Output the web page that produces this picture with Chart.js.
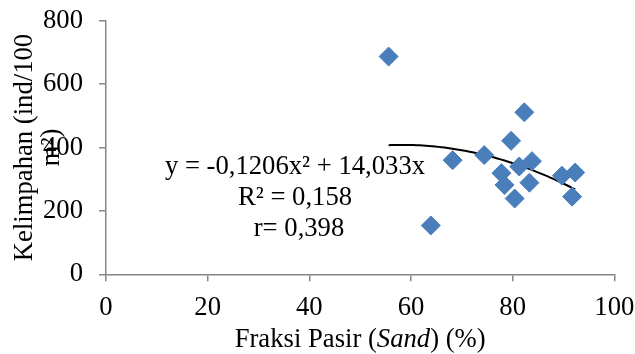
<!DOCTYPE html>
<html><head><meta charset="utf-8">
<script src="https://cdn.jsdelivr.net/npm/chart.js@4/dist/chart.umd.min.js"></script>
<style>html,body{margin:0;padding:0;background:#fff}#wrap{width:635px;height:354px;position:relative}</style>
</head><body><div id="wrap"><canvas id="c" width="635" height="354"></canvas></div>
<script>
// ---- data ----
const sandPct   = [55.6, 63.9, 68.2, 74.4, 77.8, 78.4, 79.7, 80.4, 81.3, 82.3, 83.3, 83.8, 89.7, 91.7, 92.3];
const abundance = [687, 154, 360, 376, 319, 282, 421, 239, 340, 511, 289, 357, 311, 245, 321];
const xTicks = [0, 20, 40, 60, 80, 100];
const yTicks = [0, 200, 400, 600, 800];
// printed polynomial trendline: y = a x^2 + b x
const trendA = -0.1206;
const trendB = 14.033;
const annotationLines = ['y = -0,1206x\u00B2 + 14,033x', 'R\u00B2 = 0,158', 'r= 0,398'];
const yTitleLines = ['Kelimpahan (ind/100', 'm\u00B2)'];
const xTitleParts = [['Fraksi Pasir (', false], ['Sand', true], [') (%)', false]];

const FONT = '"Liberation Serif", "Times New Roman", serif';
const FS = 26.67;
const AXIS = '#868686';
const BLUE = '#4A7EBB';

const points = sandPct.map((x, i) => ({x: x, y: abundance[i]}));
const xMin = Math.min(...sandPct), xMax = Math.max(...sandPct);
const trend = [];
for (let k = 0; k <= 60; k++) {
  const x = xMin + (xMax - xMin) * k / 60;
  trend.push({x: x, y: trendA * x * x + trendB * x});
}

const textPlugin = {
  id: 'texts',
  afterDraw(chart) {
    const ctx = chart.ctx, ca = chart.chartArea;
    ctx.save();
    ctx.fillStyle = '#000';
    ctx.font = FS + 'px ' + FONT;
    // y title (rotated, two lines)
    const cy = (ca.top + ca.bottom) / 2;
    const bx = [32, 59];
    yTitleLines.forEach((t, i) => {
      ctx.save();
      ctx.translate(bx[i], cy);
      ctx.rotate(-Math.PI / 2);
      ctx.textAlign = 'center';
      ctx.textBaseline = 'alphabetic';
      ctx.fillText(t, 0, 0);
      ctx.restore();
    });
    // x title with italic part
    let total = 0;
    const widths = xTitleParts.map(([t, it]) => {
      ctx.font = (it ? 'italic ' : '') + FS + 'px ' + FONT;
      const w = ctx.measureText(t).width; total += w; return w;
    });
    let x0 = (ca.left + ca.right) / 2 - total / 2;
    ctx.textAlign = 'left';
    ctx.textBaseline = 'alphabetic';
    xTitleParts.forEach(([t, it], i) => {
      ctx.font = (it ? 'italic ' : '') + FS + 'px ' + FONT;
      ctx.fillText(t, x0, 347);
      x0 += widths[i];
    });
    // equation annotation
    ctx.font = FS + 'px ' + FONT;
    ctx.textAlign = 'center';
    const ax = [295, 295, 299];
    const ay = [174.3, 205, 235.7];
    annotationLines.forEach((t, i) => ctx.fillText(t, ax[i], ay[i]));
    ctx.restore();
  }
};

function noPad(s) { s.paddingLeft = 0; s.paddingRight = 0; s.paddingTop = 0; s.paddingBottom = 0; }

new Chart(document.getElementById('c'), {
  type: 'scatter',
  data: {
    datasets: [
      {
        type: 'line', data: trend, borderColor: '#000', borderWidth: 2,
        pointRadius: 0, fill: false, tension: 0, order: 2
      },
      {
        data: points, pointStyle: 'rectRot', pointRadius: 9.5,
        backgroundColor: BLUE, borderColor: BLUE, borderWidth: 1, order: 1
      }
    ]
  },
  options: {
    responsive: false, animation: false,
    layout: {padding: {left: 0, top: 20.7, right: 20.7, bottom: 0}},
    plugins: {legend: {display: false}, tooltip: {enabled: false}},
    scales: {
      x: {
        type: 'linear', min: 0, max: 100,
        afterBuildTicks: s => { s.ticks = xTicks.map(v => ({value: v})); },
        afterFit: s => { s.height = 79.7; noPad(s); },
        grid: {display: true, drawOnChartArea: false, drawTicks: true, tickLength: 7, color: AXIS, lineWidth: 1.5},
        border: {display: true, color: AXIS, width: 1.5},
        ticks: {color: '#000', font: {family: FONT, size: FS}, padding: 11, maxRotation: 0}
      },
      y: {
        type: 'linear', min: 0, max: 800,
        afterBuildTicks: s => { s.ticks = yTicks.map(v => ({value: v})); },
        afterFit: s => { s.width = 106; noPad(s); },
        grid: {display: true, drawOnChartArea: false, drawTicks: true, tickLength: 7, color: AXIS, lineWidth: 1.5},
        border: {display: true, color: AXIS, width: 1.5},
        ticks: {color: '#000', font: {family: FONT, size: FS}, padding: 16}
      }
    }
  },
  plugins: [textPlugin]
});
</script>
</body></html>
